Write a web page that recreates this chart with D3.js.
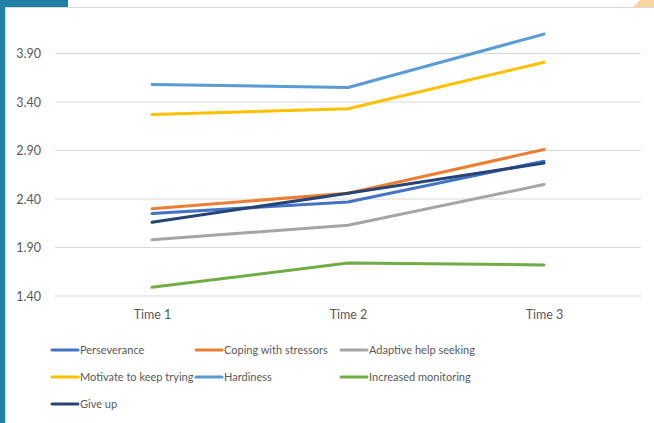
<!DOCTYPE html>
<html>
<head>
<meta charset="utf-8">
<script src="https://cdn.jsdelivr.net/npm/d3@7"></script>
<style>
  body { margin: 0; background: #fff; }
  svg { display: block; font-family: Lato, "Open Sans", sans-serif; }
</style>
</head>
<body>
<div id="chart"></div>
<script>
// Data
const times = ['Time 1', 'Time 2', 'Time 3'];
const yTicks = [1.40, 1.90, 2.40, 2.90, 3.40, 3.90];
const seriesNames = [
    'Perseverance', 'Coping with stressors', 'Adaptive help seeking',
    'Motivate to keep trying', 'Hardiness', 'Increased monitoring', 'Give up'
];
const perseverance = [2.25, 2.37, 2.79];
const coping = [2.30, 2.46, 2.91];
const adaptive = [1.98, 2.13, 2.55];
const motivate = [3.27, 3.33, 3.81];
const hardiness = [3.58, 3.55, 4.10];
const monitoring = [1.49, 1.74, 1.72];
const giveUp = [2.16, 2.46, 2.77];
const seriesColors = ['#4472C4', '#ED7D31', '#A5A5A5', '#FFC000', '#5B9BD5', '#70AD47', '#264478'];

const seriesValues = [perseverance, coping, adaptive, motivate, hardiness, monitoring, giveUp];
const series = seriesNames.map((name, i) => ({
    name: name,
    color: seriesColors[i],
    points: seriesValues[i].map((v, j) => ({ time: times[j], value: v }))
}));

const width = 654, height = 423;
const svg = d3.select('#chart').append('svg')
    .attr('width', width)
    .attr('height', height);

// Frame decoration
svg.append('rect').attr('x', 0).attr('y', 0).attr('width', 5).attr('height', height).attr('fill', '#2181A4');
svg.append('rect').attr('x', 0).attr('y', 0).attr('width', 68).attr('height', 7).attr('fill', '#2181A4');
svg.append('path').attr('d', 'M633,7 L654,7 L654,0 L640,0 Z').attr('fill', '#FAD49E');
svg.append('line').attr('x1', 5).attr('x2', width).attr('y1', 7.5).attr('y2', 7.5)
    .attr('stroke', '#D9D9D9').attr('stroke-width', 1);
svg.append('line').attr('x1', 5.5).attr('x2', 5.5).attr('y1', 7).attr('y2', height)
    .attr('stroke', '#D9D9D9').attr('stroke-width', 1);

// Scales
const x = d3.scalePoint().domain(times).range([152, 544]);
const y = d3.scaleLinear().domain([1.40, 3.90]).range([296, 53.5]);

// Grid
svg.append('g')
    .selectAll('line')
    .data(yTicks)
    .join('line')
    .attr('x1', 55).attr('x2', 641)
    .attr('y1', d => y(d)).attr('y2', d => y(d))
    .attr('stroke', '#D9D9D9').attr('stroke-width', 1);

// Y axis labels
const yAxis = svg.append('g')
    .attr('transform', 'translate(41,0)')
    .call(d3.axisLeft(y).tickValues(yTicks).tickFormat(d3.format('.2f')).tickSize(0).tickPadding(0));
yAxis.select('.domain').remove();
yAxis.selectAll('text').attr('fill', '#595959').style('font-size', '12.5px').style('font-family', 'Lato, sans-serif');

// X axis labels
const xAxis = svg.append('g')
    .attr('transform', 'translate(0,310)')
    .call(d3.axisBottom(x).tickSize(0).tickPadding(0));
xAxis.select('.domain').remove();
xAxis.selectAll('text').attr('fill', '#595959').style('font-size', '12.5px').style('font-family', 'Lato, sans-serif');

// Lines
const line = d3.line()
    .x(d => x(d.time))
    .y(d => y(d.value));

svg.append('g')
    .selectAll('path')
    .data(series)
    .join('path')
    .attr('d', d => line(d.points))
    .attr('fill', 'none')
    .attr('stroke', d => d.color)
    .attr('stroke-width', 3)
    .attr('stroke-linecap', 'round')
    .attr('stroke-linejoin', 'round');

// Legend
const legendCols = [52, 196, 341];
const legendRows = [350, 377, 404];
const legend = svg.append('g')
    .selectAll('g')
    .data(series)
    .join('g')
    .attr('transform', (d, i) => `translate(${legendCols[i % 3]},${legendRows[Math.floor(i / 3)]})`);

legend.append('line')
    .attr('x1', 0).attr('x2', 26)
    .attr('stroke', d => d.color)
    .attr('stroke-width', 3)
    .attr('stroke-linecap', 'round');

legend.append('text')
    .attr('x', 28)
    .attr('dy', '0.35em')
    .attr('fill', '#595959')
    .style('font-size', '11px')
    .text(d => d.name);
</script>
</body>
</html>
